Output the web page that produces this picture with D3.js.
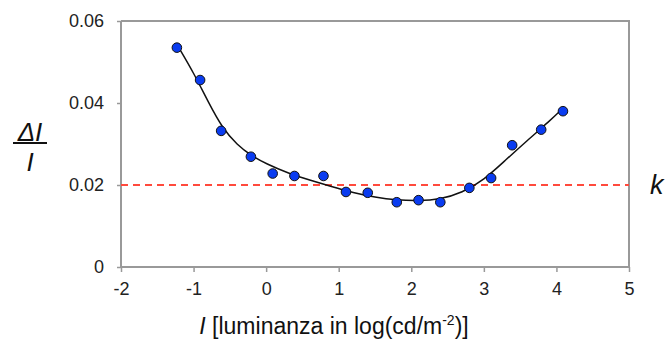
<!DOCTYPE html>
<html>
<head>
<meta charset="utf-8">
<script src="https://cdn.jsdelivr.net/npm/d3@7"></script>
<style>
  body { margin: 0; background: #fff; }
  svg { display: block; font-family: "Liberation Sans", Arial, sans-serif; }
</style>
</head>
<body>
<svg id="chart" width="666" height="345"></svg>
<script>
// measured points (log luminance, Weber fraction)
const pointX = [-1.23, -0.91, -0.62, -0.21, 0.09, 0.39, 0.79, 1.10, 1.40, 1.80, 2.10, 2.40, 2.80, 3.10, 3.39, 3.79, 4.09];
const pointY = [0.0535, 0.0456, 0.0332, 0.0269, 0.0228, 0.0222, 0.0222, 0.0183, 0.0181, 0.0158, 0.0163, 0.0158, 0.0193, 0.0217, 0.0297, 0.0335, 0.0380];

// fitted curve
const curveX = [-1.22, -1.0, -0.8, -0.6, -0.4, -0.2, 0.0, 0.3, 0.6, 0.9, 1.2, 1.5, 1.8, 2.1, 2.4, 2.7, 3.0, 3.3, 3.6, 3.9, 4.09];
const curveY = [0.0540, 0.0474, 0.0403, 0.0338, 0.0298, 0.0271, 0.0252, 0.0229, 0.0212, 0.0196, 0.0181, 0.0170, 0.0163, 0.0161, 0.0165, 0.0181, 0.0212, 0.0261, 0.0309, 0.0355, 0.0387];

const kValue = 0.02;
const xTicks = [-2, -1, 0, 1, 2, 3, 4, 5];
const yTicks = [0, 0.02, 0.04, 0.06];

const margin = { top: 21, right: 37, bottom: 78, left: 121 };
const svg = d3.select("#chart");
const width = +svg.attr("width") - margin.left - margin.right;
const height = +svg.attr("height") - margin.top - margin.bottom;

const x = d3.scaleLinear().domain([-2, 5]).range([0, width]);
const y = d3.scaleLinear().domain([0, 0.06]).range([height, 0]);

const g = svg.append("g").attr("transform", `translate(${margin.left},${margin.top})`);

const axisColor = "#999";

// frame top / right
g.append("path")
  .attr("d", `M0,0H${width}V${height}`)
  .attr("fill", "none")
  .attr("stroke", axisColor)
  .attr("stroke-width", 2);

// plain hyphen for negatives, like the original
const xAxis = d3.axisBottom(x).tickValues(xTicks).tickSize(5).tickPadding(10).tickFormat((d) => String(d));
const yAxis = d3.axisLeft(y).tickValues(yTicks).tickSize(4).tickPadding(13)
  .tickFormat((d) => (d === 0 ? "0" : d.toFixed(2)));

const gx = g.append("g").attr("transform", `translate(0,${height})`).call(xAxis);
const gy = g.append("g").call(yAxis);

[gx, gy].forEach((a) => {
  a.select(".domain").attr("stroke", axisColor).attr("stroke-width", 2);
  a.selectAll(".tick line").attr("stroke", axisColor).attr("stroke-width", 1.5);
  a.selectAll(".tick text").attr("fill", "#222").attr("font-size", 18)
    .attr("font-family", "'Liberation Sans', Arial, sans-serif");
});
gx.select(".domain").attr("d", `M0,0H${width}`);
gy.select(".domain").attr("d", `M0,${height}V0`);

// k reference line
g.append("line")
  .attr("x1", 0).attr("x2", width)
  .attr("y1", y(kValue)).attr("y2", y(kValue))
  .attr("stroke", "#ff4a3d")
  .attr("stroke-width", 2)
  .attr("stroke-dasharray", "7,5");

// fitted curve
const curveData = curveX.map((v, i) => [v, curveY[i]]);
g.append("path")
  .datum(curveData)
  .attr("fill", "none")
  .attr("stroke", "#111")
  .attr("stroke-width", 1.5)
  .attr("d", d3.line().x((d) => x(d[0])).y((d) => y(d[1])).curve(d3.curveBasis));

// points
const pts = pointX.map((v, i) => ({ x: v, y: pointY[i] }));
g.selectAll(".circle").data(pts).enter()
  .append("circle")
  .attr("class", "circle")
  .attr("cx", (d) => x(d.x))
  .attr("cy", (d) => y(d.y))
  .attr("r", 4.8)
  .attr("fill", "#0a3cf0")
  .attr("stroke", "#111")
  .attr("stroke-width", 1);

// k label
svg.append("text")
  .attr("x", 650).attr("y", margin.top + y(kValue) + 9)
  .attr("font-size", 27).attr("font-style", "italic").attr("fill", "#111")
  .text("k");

// y label as fraction ΔI / I
const yl = svg.append("g").attr("transform", "translate(30,143)");
yl.append("text").attr("text-anchor", "middle").attr("y", -2)
  .attr("font-size", 26).attr("font-style", "italic").attr("fill", "#111").text("ΔI");
yl.append("line").attr("x1", -17).attr("x2", 17).attr("stroke", "#111").attr("stroke-width", 2);
yl.append("text").attr("text-anchor", "middle").attr("y", 28)
  .attr("font-size", 26).attr("font-style", "italic").attr("fill", "#111").text("I");

// x label
const xl = svg.append("text")
  .attr("x", 334).attr("y", 334)
  .attr("text-anchor", "middle")
  .attr("font-size", 23).attr("fill", "#111");
xl.append("tspan").attr("font-style", "italic").text("I");
xl.append("tspan").text(" [luminanza in log(cd/m");
xl.append("tspan").attr("font-size", 14).attr("dy", -9).text("-2");
xl.append("tspan").attr("dy", 9).text(")]");
</script>
</body>
</html>
